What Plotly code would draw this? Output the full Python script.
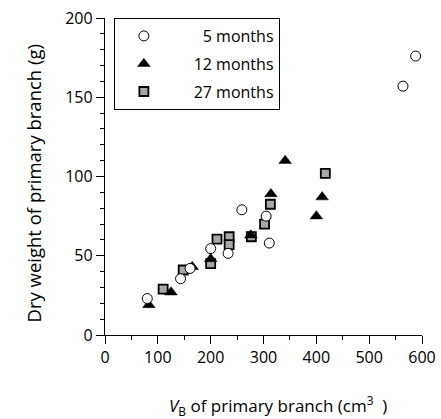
import plotly.graph_objects as go

# 5 months (open circles)
vb_5 = [80, 143, 161, 200, 233, 259, 305, 311, 564, 588]
dw_5 = [23, 35.5, 42, 54.5, 51.5, 79, 75, 58, 157, 176]
# 12 months (filled triangles)
vb_12 = [83, 125, 165, 200, 276, 314, 341, 400, 411]
dw_12 = [19, 27, 43, 48, 63, 89, 110, 75, 87]
# 27 months (hatched squares)
vb_27 = [110, 148, 200, 212, 235, 235, 277, 302, 313, 417]
dw_27 = [29, 41, 45, 60.5, 62, 57, 62, 70, 82.5, 102]

pad = "\u00a0" * 5
labels = [pad + "\u20075 months", pad + "12 months", pad + "27 months"]

FONT = "Open Sans"
fig = go.Figure()

fig.add_trace(go.Scatter(
    x=vb_27, y=dw_27, mode="markers", name=labels[2], legendrank=3, legendgroup="c",
    marker=dict(symbol="square", size=9, color="#a8a8a8",
                line=dict(color="black", width=1.8))))
fig.add_trace(go.Scatter(
    x=vb_12, y=dw_12, mode="markers", name=labels[1], legendrank=2, legendgroup="b",
    marker=dict(symbol="triangle-up", size=11, color="black",
                line=dict(color="black", width=0.5))))
fig.add_trace(go.Scatter(
    x=vb_5, y=dw_5, mode="markers", name=labels[0], legendrank=1, legendgroup="a",
    marker=dict(symbol="circle", size=10, color="white",
                line=dict(color="black", width=1))))

axis_common = dict(
    showline=True, linecolor="black", linewidth=1.3,
    ticks="outside", ticklen=8, tickwidth=1.3, tickcolor="black",
    showgrid=False, zeroline=False, automargin=False,
    tickfont=dict(family=FONT, size=16, color="black"),
)

fig.update_xaxes(range=[0, 600], dtick=100, tick0=0,
                 minor=dict(dtick=50, ticks="outside", ticklen=4, tickwidth=1.3, tickcolor="black"),
                 **axis_common)
fig.update_yaxes(range=[0, 200], dtick=50, tick0=0,
                 minor=dict(dtick=10, ticks="outside", ticklen=4, tickwidth=1.3, tickcolor="black"),
                 **axis_common)

fig.add_annotation(
    text="<i>V</i><sub>B</sub> of primary branch (cm<sup>3</sup>\u00a0\u00a0)",
    xref="paper", yref="paper", x=0.547, y=-0.222, xanchor="center", yanchor="middle",
    showarrow=False, font=dict(family=FONT, size=17, color="black"))
fig.add_annotation(
    text="Dry weight of primary branch (g)", textangle=-90,
    xref="paper", yref="paper", x=-0.227, y=0.478, xanchor="center", yanchor="middle",
    showarrow=False, font=dict(family=FONT, size=18.5, color="black"))

fig.update_layout(
    width=441, height=419,
    margin=dict(l=105, r=19, t=18, b=84),
    plot_bgcolor="white", paper_bgcolor="white",
    font=dict(family=FONT, color="black"),
    legend=dict(x=0.028, y=1.0, xanchor="left", yanchor="top",
                bordercolor="black", borderwidth=1, bgcolor="white",
                font=dict(family=FONT, size=16, color="black"),
                tracegroupgap=4, itemwidth=48),
)

fig.write_html("out.html", config={"displayModeBar": False},
               post_script="document.body.style.margin='0';document.body.style.overflow='hidden';")
